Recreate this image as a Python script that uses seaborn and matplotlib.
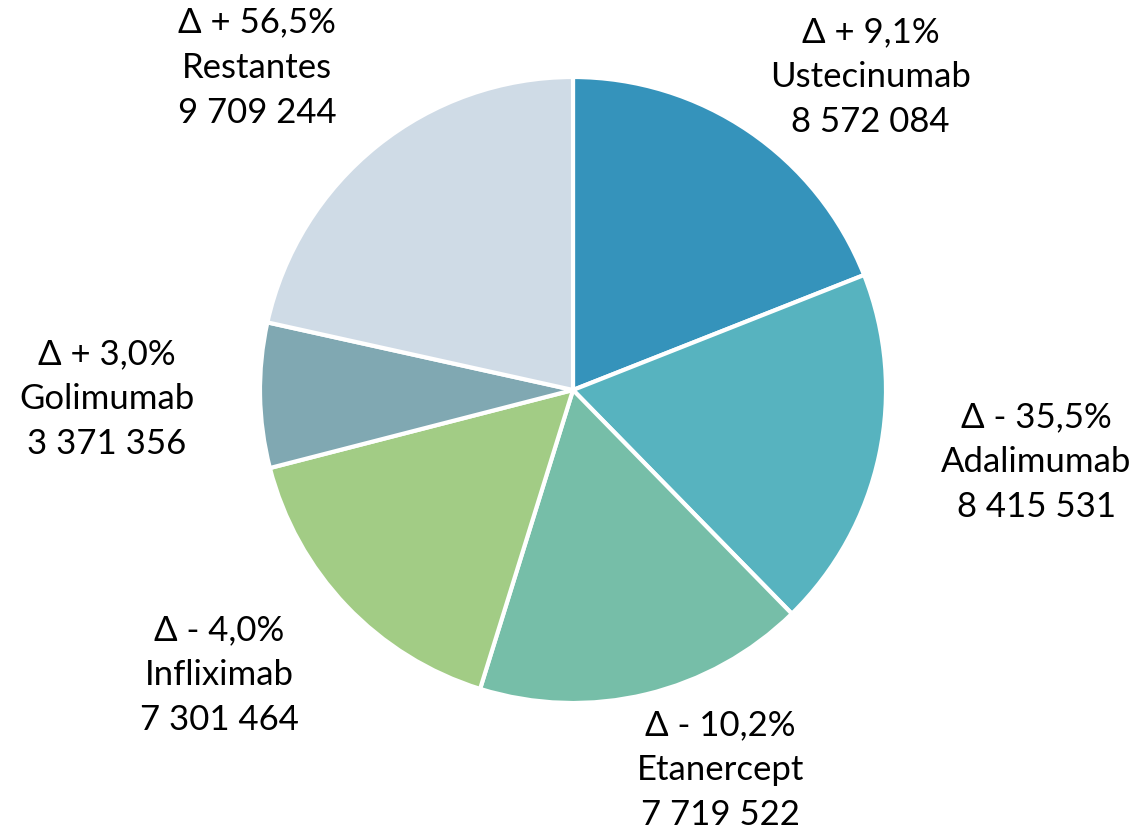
import seaborn as sns
import matplotlib.pyplot as plt

# data
names = ['Ustecinumab', 'Adalimumab', 'Etanercept', 'Infliximab', 'Golimumab', 'Restantes']
values = [8572084, 8415531, 7719522, 7301464, 3371356, 9709244]
deltas = ['+ 9,1%', '- 35,5%', '- 10,2%', '- 4,0%', '+ 3,0%', '+ 56,5%']
colors = ['#3593BB', '#57B3BF', '#76BEA8', '#A2CC85', '#80A8B2', '#CFDBE6']

# label centres (pie radius = 1)
label_pos = [(0.95, 1.00), (1.48, -0.23), (0.47, -1.215),
             (-1.13, -0.91), (-1.49, -0.03), (-1.01, 1.03)]

sns.set_style('white')
plt.rcParams['font.family'] = ['Lato', 'DejaVu Sans']

fig = plt.figure(figsize=(11.43, 8.34), dpi=100)
ax = fig.add_axes([0, 0, 1, 1])

ax.pie(values, colors=colors, startangle=90, counterclock=False, radius=1,
       wedgeprops=dict(edgecolor='white', linewidth=3))

def fmt(v):
    return f'{v:,}'.replace(',', ' ')

for name, v, d, (x, y) in zip(names, values, deltas, label_pos):
    ax.text(x, y, f'\u0394 {d}\n{name}\n{fmt(v)}', ha='center', va='center',
            fontsize=25, linespacing=1.5, color='black')

ax.set_xlim(-573 / 313, (1143 - 573) / 313)
ax.set_ylim(-(834 - 390) / 313, 390 / 313)
ax.set_aspect('equal')
ax.axis('off')

fig.savefig('out.png', dpi=100)
